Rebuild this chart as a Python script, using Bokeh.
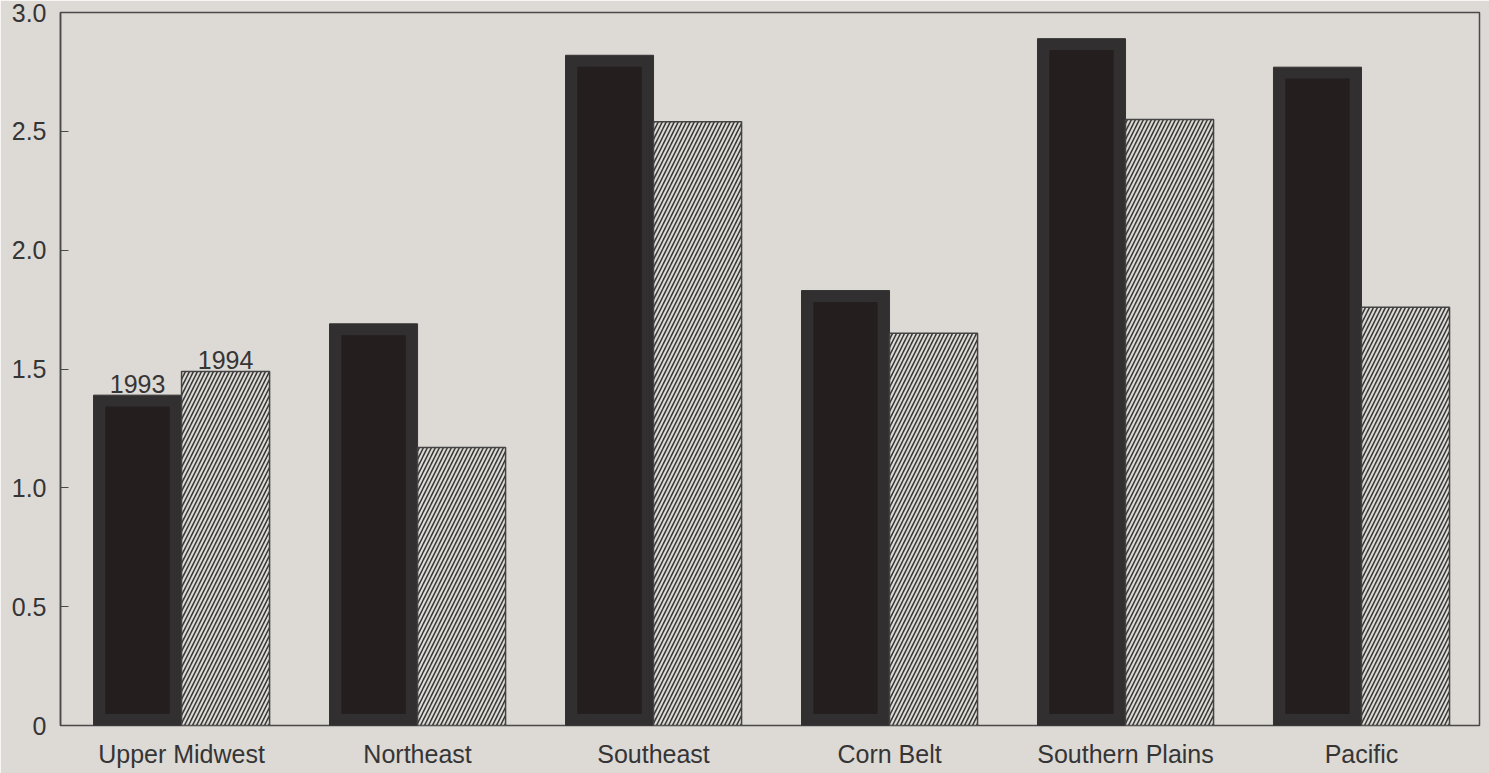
from bokeh.plotting import figure
from bokeh.models import Range1d, FixedTicker
from bokeh.embed import file_html
from bokeh.resources import INLINE
from bokeh.core.properties import value

# ---- data ----
regions = ["Upper Midwest", "Northeast", "Southeast", "Corn Belt", "Southern Plains", "Pacific"]
years = ["1993", "1994"]
v1993 = [1.39, 1.69, 2.82, 1.83, 2.89, 2.77]
v1994 = [1.49, 1.17, 2.54, 1.65, 2.55, 1.76]
y_ticks = [0, 0.5, 1.0, 1.5, 2.0, 2.5, 3.0]
y_tick_labels = ["0", "0.5", "1.0", "1.5", "2.0", "2.5", "3.0"]

# ---- style ----
BG = "#ddd9d5"
TXT = "#353535"
FONT = "Liberation Sans"
FS = "25px"
W_BAR = 0.373
BORDER_X = 0.10   # inner/outer width difference for the dark bars
BORDER_Y = 0.048

idx = list(range(len(regions)))
x93 = [i - W_BAR / 2 for i in idx]
x94 = [i + W_BAR / 2 for i in idx]

p = figure(width=1489, height=773, output_backend="svg", toolbar_location=None,
           x_range=Range1d(-0.513, 5.5), y_range=Range1d(0, 3.0),
           min_border_left=60, min_border_right=10, min_border_top=12, min_border_bottom=48)

p.background_fill_color = BG
p.border_fill_color = BG
p.outline_line_color = "#4a4a4a"
p.outline_line_width = 1.5
p.xgrid.grid_line_color = None
p.ygrid.grid_line_color = None

# dark 1993 bars (outer lighter rim + inner darker core)
p.vbar(x=x93, top=v1993, width=W_BAR, bottom=0,
       fill_color="#312f30", line_color="#333132", line_width=1)
p.vbar(x=x93, top=[v - BORDER_Y for v in v1993], bottom=BORDER_Y,
       width=W_BAR - BORDER_X, fill_color="#241e1f", line_color=None)

# hatched 1994 bars
p.vbar(x=x94, top=v1994, width=W_BAR, bottom=0,
       fill_color=BG, line_color="#444444", line_width=1.5,
       hatch_pattern="/", hatch_scale=8, hatch_weight=1.5, hatch_color="#333333")

# year labels above first group
p.text(x=[x93[0], x94[0]], y=[v1993[0], v1994[0]], text=years,
       text_align="center", text_baseline="bottom", y_offset=-2,
       text_font=value(FONT), text_font_size=FS, text_color=TXT)

# x axis
p.xaxis.ticker = FixedTicker(ticks=idx)
p.xaxis.major_label_overrides = {i: r for i, r in zip(idx, regions)}
p.xaxis.axis_line_color = None
p.xaxis.major_tick_line_color = None
p.xaxis.minor_tick_line_color = None
p.xaxis.major_label_standoff = 8
p.xaxis.major_label_text_font = FONT
p.xaxis.major_label_text_font_size = FS
p.xaxis.major_label_text_color = TXT

# y axis
p.yaxis.ticker = FixedTicker(ticks=y_ticks)
p.yaxis.major_label_overrides = {t: l for t, l in zip(y_ticks, y_tick_labels)}
p.yaxis.axis_line_color = "#4a4a4a"
p.yaxis.axis_line_width = 1.5
p.yaxis.major_tick_line_color = "#4a4a4a"
p.yaxis.major_tick_line_width = 1.2
p.yaxis.major_tick_in = 8
p.yaxis.major_tick_out = 0
p.yaxis.minor_tick_line_color = None
p.yaxis.major_label_standoff = 14
p.yaxis.major_label_text_font = FONT
p.yaxis.major_label_text_font_size = FS
p.yaxis.major_label_text_color = TXT

open("out.html", "w").write(file_html(p, INLINE))
